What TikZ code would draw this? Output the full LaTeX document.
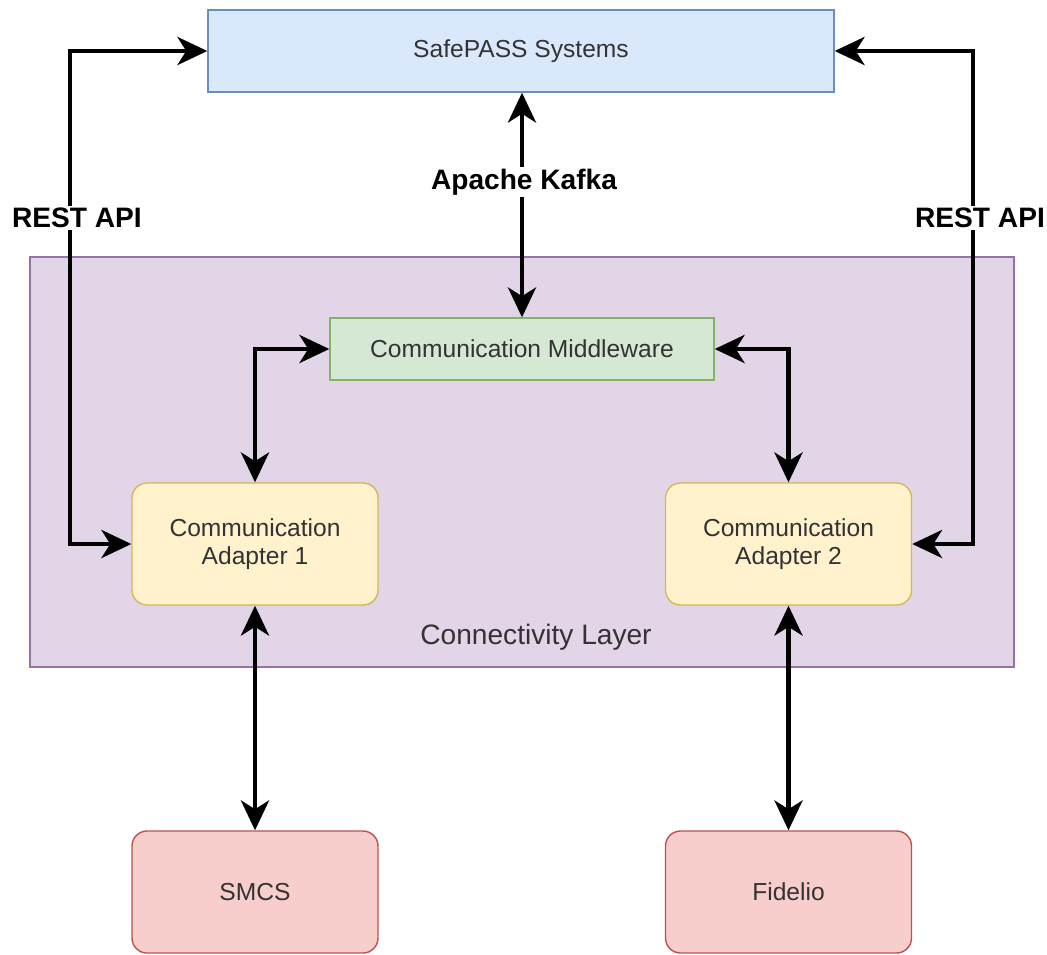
\documentclass[tikz,border=0pt]{standalone}
\usepackage{fontspec}
\setmainfont{Liberation Sans}
\usetikzlibrary{arrows.meta}
\definecolor{sysfill}{HTML}{DAE8FC}
\definecolor{sysdraw}{HTML}{6C8EBF}
\definecolor{layerfill}{HTML}{E1D5E7}
\definecolor{layerdraw}{HTML}{9673A6}
\definecolor{mwfill}{HTML}{D5E8D4}
\definecolor{mwdraw}{HTML}{82B366}
\definecolor{adfill}{HTML}{FFF2CC}
\definecolor{addraw}{HTML}{D6B656}
\definecolor{extfill}{HTML}{F8CECC}
\definecolor{extdraw}{HTML}{B85450}

\begin{document}
\begin{tikzpicture}[
    box/.style={draw, line width=0.8pt, text=black!80, font=\fontsize{14}{16}\selectfont, align=center, inner sep=0pt},
    link/.style={line width=2.3pt, {Stealth[length=17pt,width=16pt,inset=5pt]}-{Stealth[length=17pt,width=16pt,inset=5pt]}},
    tag/.style={fill=white, font=\bfseries\fontsize{16}{18}\selectfont, inner sep=1pt}
]
    \useasboundingbox (0,0) rectangle (20.94,-19.08);

    % 绘制连接层
    \node[box, fill=layerfill, draw=layerdraw, minimum width=19.68cm, minimum height=8.2cm] (layer) at (10.44,-9.24) {};
    \node[text=black!80, font=\fontsize{16}{18}\selectfont] (layername) at (10.72,-12.74) {Connectivity Layer};

    % 绘制各个模块
    \node[box, fill=sysfill, draw=sysdraw, minimum width=12.52cm, minimum height=1.64cm] (safe) at (10.42,-1.02) {SafePASS Systems};
    \node[box, fill=mwfill, draw=mwdraw, minimum width=7.68cm, minimum height=1.24cm] (mw) at (10.44,-6.98) {Communication Middleware};
    \node[box, rounded corners=0.3cm, fill=adfill, draw=addraw, minimum width=4.92cm, minimum height=2.44cm] (ad1) at (5.1,-10.88) {Communication\\Adapter 1};
    \node[box, rounded corners=0.3cm, fill=adfill, draw=addraw, minimum width=4.92cm, minimum height=2.44cm] (ad2) at (15.77,-10.88) {Communication\\Adapter 2};
    \node[box, rounded corners=0.3cm, fill=extfill, draw=extdraw, minimum width=4.92cm, minimum height=2.44cm] (smcs) at (5.1,-17.84) {SMCS};
    \node[box, rounded corners=0.3cm, fill=extfill, draw=extdraw, minimum width=4.92cm, minimum height=2.44cm] (fid) at (15.77,-17.84) {Fidelio};

    % 绘制连接线
    \coordinate (lbus) at (1.4,0);
    \coordinate (rbus) at (19.46,0);
    \draw[link] (ad1.west) -- (ad1.west -| lbus) |- (safe.west);
    \draw[link] (ad2.east) -- (ad2.east -| rbus) |- (safe.east);
    \draw[link] (safe.south -| mw.north) -- (mw.north);
    \draw[link] (mw.west) -| (ad1.north);
    \draw[link] (mw.east) -| (ad2.north);
    \draw[link] (ad1.south) -- (smcs.north);
    \draw[link] (ad2.south) -- (fid.north);

    % 绘制标签
    \node[tag] (rest1) at (1.54,-4.36) {REST API};
    \node[tag] (rest2) at (19.6,-4.36) {REST API};
    \node[tag] (kafka) at (10.48,-3.64) {Apache Kafka};

\end{tikzpicture}
\end{document}
